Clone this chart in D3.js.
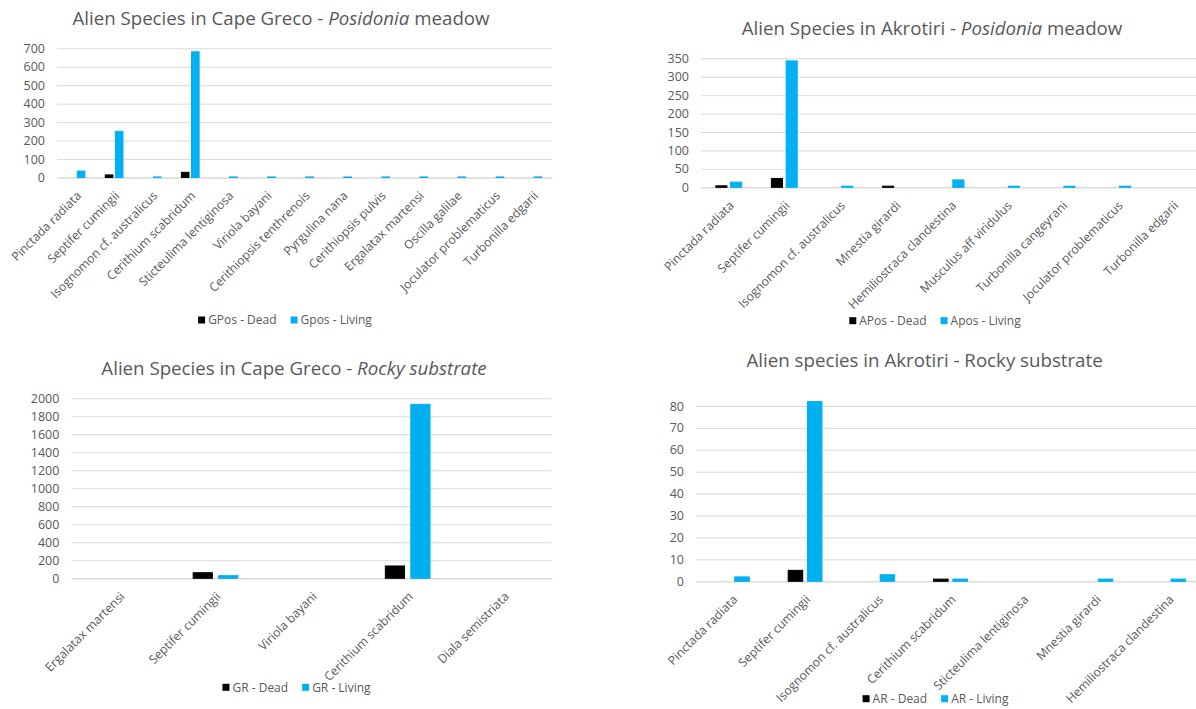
<!DOCTYPE html>
<html>
<head>
<meta charset="utf-8">
<script src="https://cdn.jsdelivr.net/npm/d3@7"></script>
<style>
  html, body { margin: 0; padding: 0; background: #ffffff; }
  svg { display: block; }
</style>
</head>
<body>
<svg id="chart" width="1196" height="709"></svg>
<script>
// ---- Cape Greco, Posidonia meadow ----
const gposCategories = ["Pinctada radiata", "Septifer cumingii", "Isognomon cf. australicus", "Cerithium scabridum",
  "Sticteulima lentiginosa", "Viriola bayani", "Cerithiopsis tenthrenois", "Pyrgulina nana", "Cerithiopsis pulvis",
  "Ergalatax martensi", "Oscilla galilae", "Joculator problematicus", "Turbonilla edgarii"];
const gposDead = [0, 14, 0, 28, 0, 0, 0, 0, 0, 0, 0, 0, 0];
const gposLiving = [35, 250, 3, 681, 3, 3, 3, 3, 3, 3, 3, 3, 3];
const gposTicks = [0, 100, 200, 300, 400, 500, 600, 700];
const gposLegend = ["GPos - Dead", "Gpos - Living"];
const gposTitle = [["Alien Species in Cape Greco - ", false], ["Posidonia", true], [" meadow", false]];

// ---- Akrotiri, Posidonia meadow ----
const aposCategories = ["Pinctada radiata", "Septifer cumingii", "Isognomon cf. australicus", "Mnestia girardi",
  "Hemiliostraca clandestina", "Musculus aff viridulus", "Turbonilla cangeyrani", "Joculator problematicus",
  "Turbonilla edgarii"];
const aposDead = [4, 24, 0, 3, 0, 0, 0, 0, 0];
const aposLiving = [14, 343, 3, 0, 20, 3, 3, 3, 0];
const aposTicks = [0, 50, 100, 150, 200, 250, 300, 350];
const aposLegend = ["APos - Dead", "Apos - Living"];
const aposTitle = [["Alien Species in Akrotiri - ", false], ["Posidonia", true], [" meadow", false]];

// ---- Cape Greco, rocky substrate ----
const grCategories = ["Ergalatax martensi", "Septifer cumingii", "Viriola bayani", "Cerithium scabridum", "Diala semistriata"];
const grDead = [0, 62, 0, 137, 0];
const grLiving = [0, 29, 0, 1933, 0];
const grTicks = [0, 200, 400, 600, 800, 1000, 1200, 1400, 1600, 1800, 2000];
const grLegend = ["GR - Dead", "GR - Living"];
const grTitle = [["Alien Species in Cape Greco - ", false], ["Rocky substrate", true]];

// ---- Akrotiri, rocky substrate ----
const arCategories = ["Pinctada radiata", "Septifer cumingii", "Isognomon cf. australicus", "Cerithium scabridum",
  "Sticteulima lentiginosa", "Mnestia girardi", "Hemiliostraca clandestina"];
const arDead = [0, 5, 0, 1, 0, 0, 0];
const arLiving = [2, 82, 3, 1, 0, 1, 1];
const arTicks = [0, 10, 20, 30, 40, 50, 60, 70, 80];
const arLegend = ["AR - Dead", "AR - Living"];
const arTitle = [["Alien species in Akrotiri - Rocky substrate", false]];

// ---- styling ----
const FONT = "'Open Sans', sans-serif";
const TEXT = "#595959";
const GRID = "#d9d9d9";
const DEAD = "#000000";
const LIVING = "#00b0f0";

// Panel frames: plot box, title and legend placement
const panels = [
  { cats: gposCategories, dead: gposDead, living: gposLiving, ticks: gposTicks, legend: gposLegend, title: gposTitle,
    left: 57, right: 552, bottom: 177.5, top: 48.3, titleX: 281, titleY: 18.5, legendX: 285, legendY: 320 },
  { cats: aposCategories, dead: aposDead, living: aposLiving, ticks: aposTicks, legend: aposLegend, title: aposTitle,
    left: 701, right: 1201, bottom: 187.3, top: 58.3, titleX: 932, titleY: 28, legendX: 935, legendY: 320.7 },
  { cats: grCategories, dead: grDead, living: grLiving, ticks: grTicks, legend: grLegend, title: grTitle,
    left: 71.4, right: 551.8, bottom: 578.3, top: 398.3, titleX: 294, titleY: 368.3, legendX: 296.5, legendY: 687.3 },
  { cats: arCategories, dead: arDead, living: arLiving, ticks: arTicks, legend: arLegend, title: arTitle,
    left: 696, right: 1205, bottom: 581.3, top: 406, titleX: 924.6, titleY: 360, legendX: 935.5, legendY: 698.7 }
];

const svg = d3.select("#chart");

panels.forEach(p => {
  const g = svg.append("g");
  const y = d3.scaleLinear().domain([0, d3.max(p.ticks)]).range([p.bottom, p.top]);
  const x = d3.scaleBand().domain(p.cats).range([p.left, p.right]).paddingInner(0).paddingOuter(0);
  const step = x.bandwidth();

  // value axis with gridlines
  const yAxis = g.append("g")
    .attr("transform", `translate(${p.left},0)`)
    .call(d3.axisLeft(y).tickValues(p.ticks).tickSize(-(p.right - p.left)).tickPadding(12).tickFormat(d3.format("d")));
  yAxis.select(".domain").remove();
  yAxis.selectAll(".tick line").attr("stroke", GRID).attr("stroke-width", 1);
  yAxis.selectAll(".tick text").attr("fill", TEXT).style("font-family", FONT).style("font-size", "12.5px");

  // category axis with slanted labels
  const xAxis = g.append("g")
    .attr("transform", `translate(0,${p.bottom})`)
    .call(d3.axisBottom(x).tickSize(0));
  xAxis.select(".domain").attr("stroke", GRID);
  xAxis.selectAll(".tick text")
    .attr("x", 0).attr("y", 0).attr("dy", 0)
    .attr("text-anchor", "end")
    .attr("transform", "translate(6,19) rotate(-45)")
    .attr("fill", TEXT)
    .style("font-family", FONT).style("font-size", "12.2px");

  // bars: dead to the left of the category centre, living to the right
  const bw = step * 0.2;
  const gap = step * 0.065;
  const rows = p.cats.map((c, i) => ({ c, dead: p.dead[i], living: p.living[i] }));
  const series = [
    { key: "dead", color: DEAD, off: -gap / 2 - bw },
    { key: "living", color: LIVING, off: gap / 2 }
  ];
  series.forEach(s => {
    g.append("g").selectAll("rect")
      .data(rows.filter(r => r[s.key] > 0))
      .join("rect")
      .attr("x", r => x(r.c) + step / 2 + s.off)
      .attr("width", bw)
      .attr("y", r => y(r[s.key]))
      .attr("height", r => y(0) - y(r[s.key]))
      .attr("fill", s.color)
      .attr("stroke", s.color)
      .attr("stroke-width", 1);
  });

  // title
  const t = g.append("text")
    .attr("x", p.titleX).attr("y", p.titleY).attr("dy", "0.35em")
    .attr("text-anchor", "middle")
    .attr("fill", TEXT)
    .style("font-family", FONT).style("font-size", "18.7px");
  p.title.forEach(([txt, it]) => {
    t.append("tspan").text(txt).style("font-style", it ? "italic" : "normal");
  });

  // legend, centred on legendX
  const lg = g.append("g");
  let cx = 0;
  p.legend.forEach((name, i) => {
    const item = lg.append("g").attr("transform", `translate(${cx},0)`);
    item.append("rect").attr("x", 0).attr("y", -3.5).attr("width", 7).attr("height", 7)
      .attr("fill", i === 0 ? DEAD : LIVING);
    const tx = item.append("text").attr("x", 10).attr("y", 0).attr("dy", "0.35em")
      .attr("fill", TEXT).style("font-family", FONT).style("font-size", "12px").text(name);
    cx += 10 + tx.node().getComputedTextLength() + 14;
  });
  const lw = cx - 14;
  lg.attr("transform", `translate(${p.legendX - lw / 2},${p.legendY})`);
});
</script>
</body>
</html>
